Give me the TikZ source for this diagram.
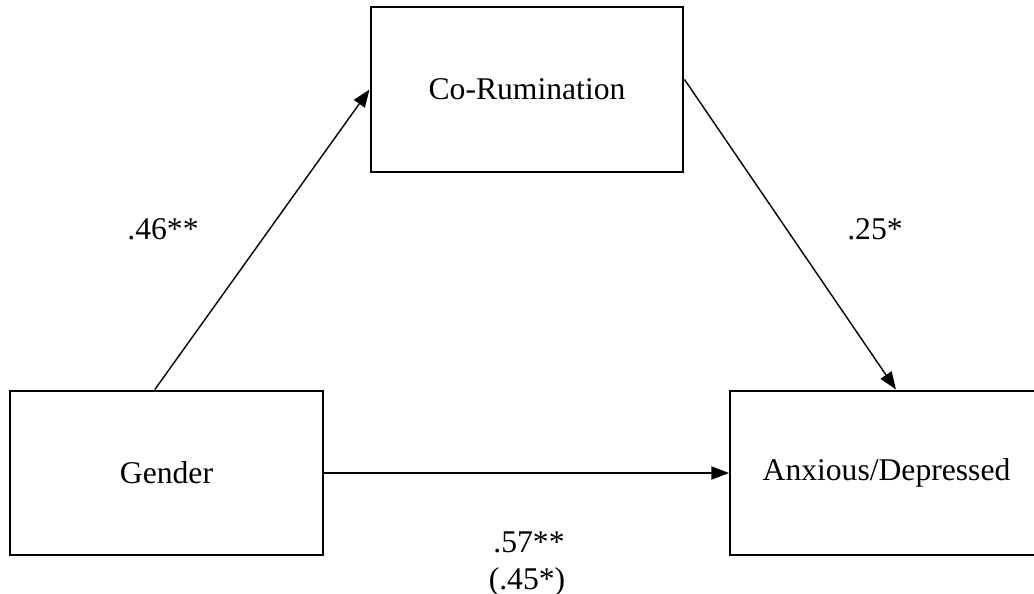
\documentclass[tikz,border=0pt]{standalone}
\usepackage{fontspec}
\setmainfont{Liberation Serif}
\usetikzlibrary{arrows.meta,calc}
\tikzstyle{var}=[draw,line width=1.15pt,minimum width=6.26cm,minimum height=3.3cm,inner sep=0pt,font=\fontsize{18}{20}\selectfont]
\tikzstyle{effect}=[-{Triangle[length=10pt,width=7.5pt]},line width=0.8pt]
\tikzstyle{coef}=[font=\fontsize{18}{20}\selectfont,align=center,inner sep=0pt]

\begin{document}
\begin{tikzpicture}[x=0.02cm,y=-0.02cm]
    \useasboundingbox (0,0) rectangle (1034,594);
    \node[var] (corum) at (527,89.5) {Co-Rumination};
    \node[var] (gender) at (166.5,473) {Gender};
    \node[var] (anx) at (886.5,473) {Anxious/Depressed};
    \draw[effect] ($(gender.north west)!0.463!(gender.north east)$) -- (corum.west);
    \draw[effect] ($(corum.north east)!0.44!(corum.south east)$) -- ($(anx.north west)!0.53!(anx.north east)$);
    \draw[effect] (gender.east) -- (anx.west);
    \node[coef] (a) at (163,229) {.46**};
    \node[coef] (b) at (875,229) {.25*};
    \node[coef] (c) at (529,542) {.57**};
    \node[coef] (cprime) at (527,582) {(.45*)};
\end{tikzpicture}
\end{document}
